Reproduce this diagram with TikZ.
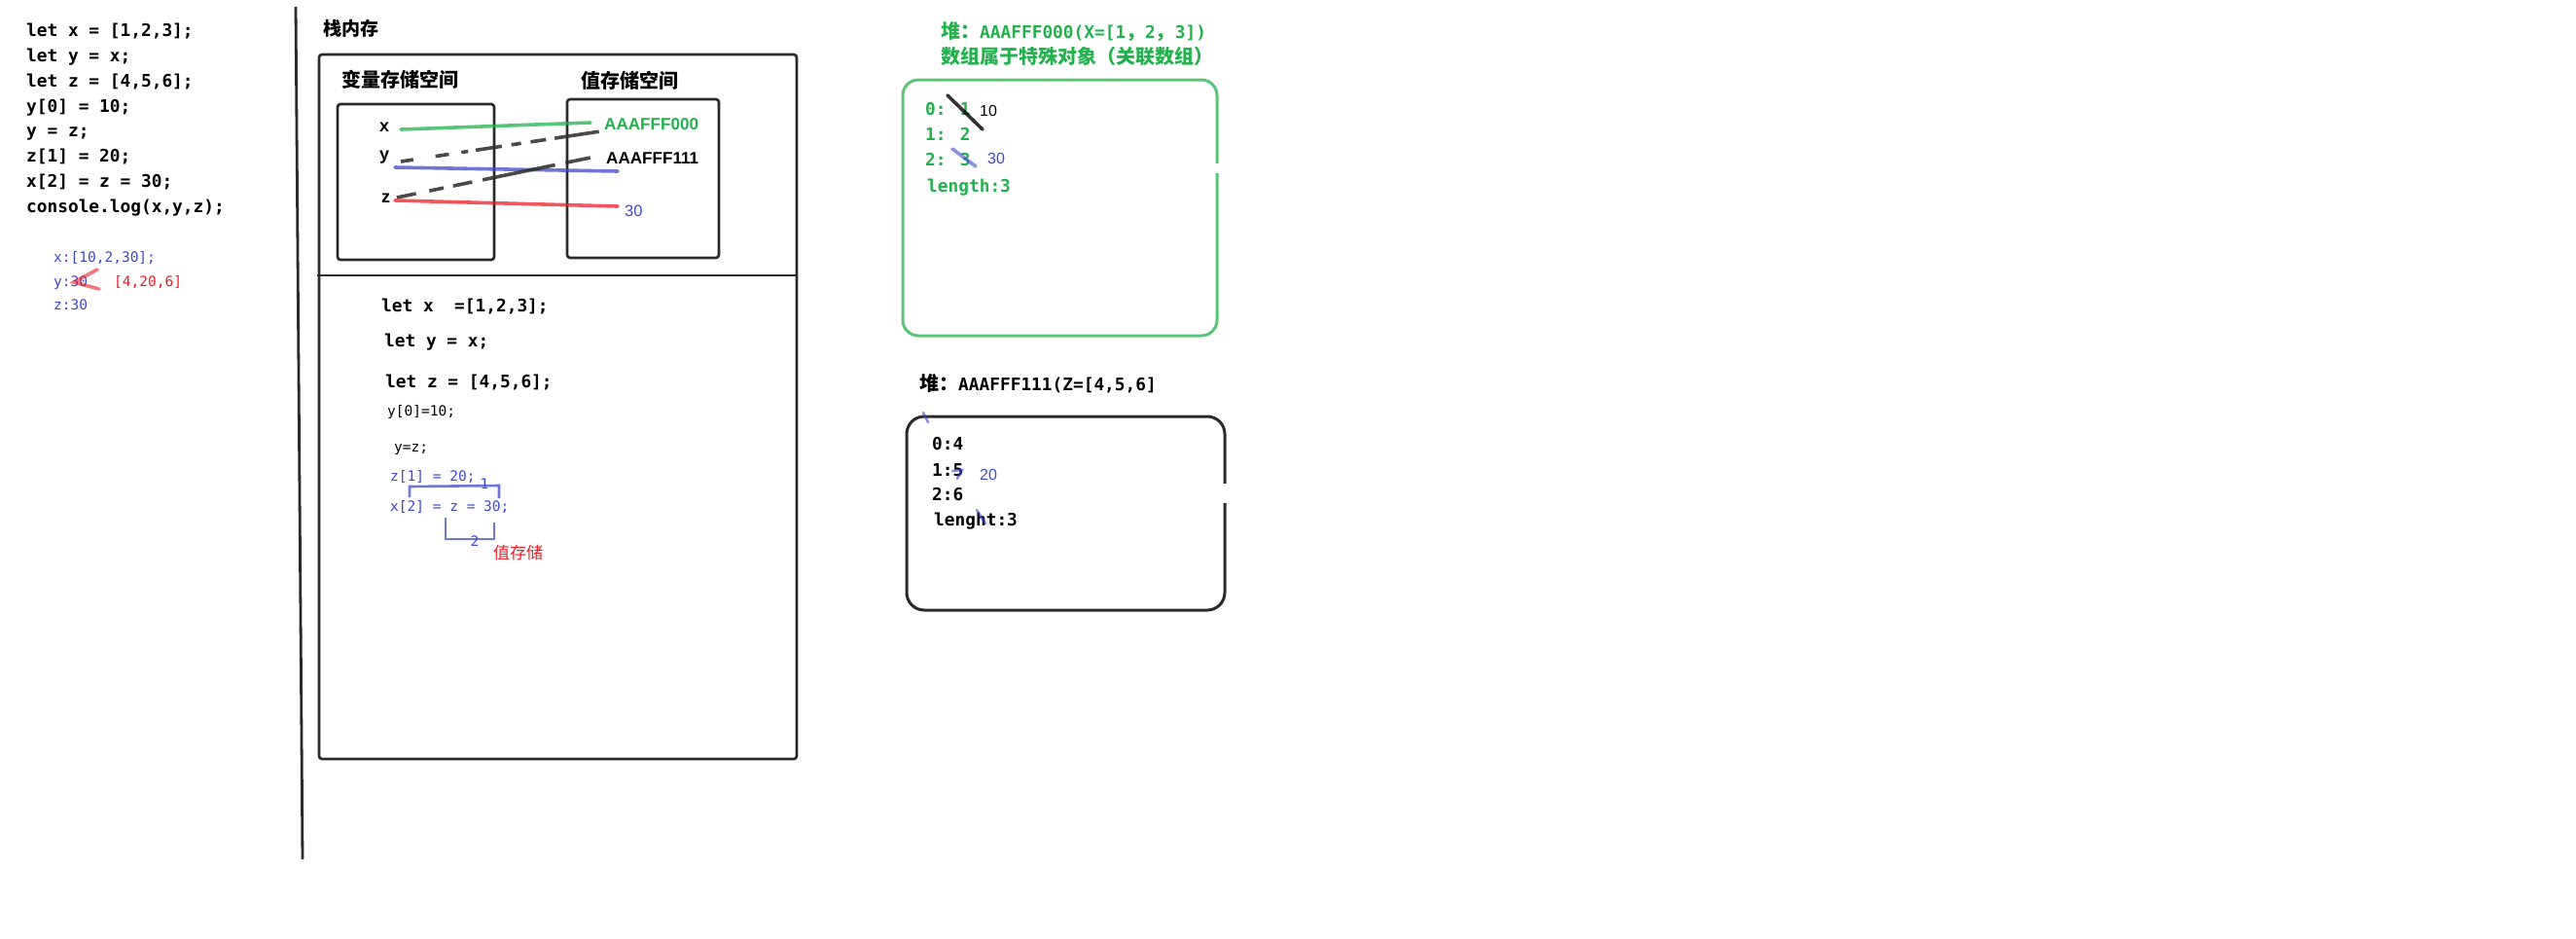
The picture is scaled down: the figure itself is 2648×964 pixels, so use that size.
\documentclass[tikz,border=0pt]{standalone}
\usepackage{fontspec}
\setmainfont{Liberation Sans}
\newfontfamily\cjk{Noto Sans CJK SC}
\newfontfamily\mono{DejaVu Sans Mono}
\newfontfamily\arial{Liberation Sans}
\definecolor{pgreen}{HTML}{22B14C}
\definecolor{pblue}{HTML}{3F48CC}
\definecolor{pred}{HTML}{ED1C24}
\definecolor{pgray}{HTML}{2A2A2A}
\begin{document}
\begin{tikzpicture}[x=1pt,y=-1pt,
  code/.style={font=\mono\bfseries\fontsize{17.8}{20}\selectfont, anchor=base west, inner sep=0pt},
  small/.style={font=\mono\fontsize{14.5}{17}\selectfont, anchor=base west, inner sep=0pt},
  sansn/.style={font=\arial\fontsize{16}{18}\selectfont, anchor=base west, inner sep=0pt},
  sansb/.style={font=\arial\bfseries\fontsize{17.1}{20}\selectfont, anchor=base west, inner sep=0pt},
  cjkb/.style={font=\cjk\bfseries\fontsize{20}{22}\selectfont, anchor=west, inner sep=0pt},
  frame/.style={draw=pgray, line width=2.6pt, rounded corners=3pt},
  pen/.style={line width=3.6pt, opacity=0.75, line cap=round},
  dline/.style={line width=3.6pt, draw=pgray, opacity=0.85},
  bracket/.style={draw=pblue, line width=2.6pt, opacity=0.75}]
\useasboundingbox (0,0) rectangle (2648,964);

% ---------- left code ----------
\node[code] (c1) at (27,37)  {let x = [1,2,3];};
\node[code] (c2) at (27,63)  {let y = x;};
\node[code] (c3) at (27,89)  {let z = [4,5,6];};
\node[code] (c4) at (27,115) {y[0] = 10;};
\node[code] (c5) at (27,140) {y = z;};
\node[code] (c6) at (27,166) {z[1] = 20;};
\node[code] (c7) at (27,192) {x[2] = z = 30;};
\node[code] (c8) at (27,218) {console.log(x,y,z);};

\node[small, text=pblue] (o1) at (55,269) {x:[10,2,30];};
\node[small, text=pblue] (o2) at (55,294) {y:30};
\node[small, text=pblue] (o3) at (55,318) {z:30};
\node[small, text=pred]  (o4) at (117,294) {[4,20,6]};
\coordinate (s1) at (100,277); \coordinate (s2) at (76,290); \coordinate (s3) at (102,297);
\draw[pen, pred, opacity=0.6] (s1) -- (s2) -- (s3);

% ---------- separator ----------
\coordinate (vt) at (304,7); \coordinate (vb) at (311,883);
\draw[draw=pgray, line width=2.8pt] (vt) -- (vb);

% ---------- stack ----------
\node[cjkb, font=\cjk\bfseries\fontsize{19}{21}\selectfont] (stk) at (332,29) {栈内存};
\draw[frame] (328,56) rectangle (819,780);
\coordinate (dl) at (326,283); \coordinate (dr) at (819,283);
\draw[frame] (dl) -- (dr);
\node[cjkb] (vs) at (351,82) {变量存储空间};
\node[cjkb] (vv) at (597,83) {值存储空间};
\draw[frame] (347,107) rectangle (508,267);
\draw[frame] (583,102) rectangle (739,265);

\node[font=\arial\bfseries\fontsize{18}{20}\selectfont, anchor=base west, inner sep=0pt] (lx) at (390,135) {x};
\node[font=\arial\bfseries\fontsize{18}{20}\selectfont, anchor=base west, inner sep=0pt] (ly) at (390,164) {y};
\node[font=\arial\bfseries\fontsize{18}{20}\selectfont, anchor=base west, inner sep=0pt] (lz) at (392,208) {z};

\node[sansb, text=pgreen] (a0) at (621,133) {AAAFFF000};
\node[sansb] (a1) at (623,168) {AAAFFF111};
\node[sansn, text=pblue, font=\arial\fontsize{16.5}{18}\selectfont] (v30) at (642,222) {30};

\coordinate (gx1) at (412,133); \coordinate (gx2) at (607,126);
\coordinate (by1) at (406,172); \coordinate (by2) at (635,176);
\coordinate (rz1) at (406,206); \coordinate (rz2) at (635,212);
\coordinate (dy1) at (412,166); \coordinate (dy2) at (617,135);
\coordinate (dz1) at (408,203); \coordinate (dz2) at (607,162);
\draw[pen, pgreen] (gx1) -- (gx2);
\draw[dline, dash pattern=on 13pt off 23pt on 14pt off 13pt on 7pt off 8pt on 27pt off 10pt on 10pt off 10pt on 16pt off 9pt on 46pt off 200pt] (dy1) -- (dy2);
\draw[pen, pblue] (by1) -- (by2);
\draw[dline, dash pattern=on 20pt off 14pt on 15pt off 10pt on 20pt off 11pt on 76pt off 11pt on 26pt off 200pt] (dz1) -- (dz2);
\draw[pen, pred] (rz1) -- (rz2);

% lower compartment
\node[code] (l1) at (392,320) {let x~~=[1,2,3];};
\node[code] (l2) at (395,356) {let y = x;};
\node[code] (l3) at (396,398) {let z = [4,5,6];};
\node[small] (l4) at (398,427) {y[0]=10;};
\node[small] (l5) at (405,464) {y=z;};
\node[small, text=pblue] (l6) at (401,494) {z[1] = 20;};
\node[small, text=pblue] (l7) at (401,525) {x[2] = z = 30;};
\coordinate (k1) at (421,511); \coordinate (k2) at (421,500); \coordinate (k3) at (513,499); \coordinate (k4) at (513,512);
\draw[bracket] (k1) -- (k2) -- (k3) -- (k4);
\node[small, text=pblue, anchor=center] (b1) at (498,497) {1};
\coordinate (m1) at (458,532); \coordinate (m2) at (458,554); \coordinate (m3) at (508,554); \coordinate (m4) at (508,537);
\draw[bracket] (m1) -- (m2) -- (m3) -- (m4);
\node[small, text=pblue, anchor=center] (b2) at (488,556) {2};
\node[font=\cjk\fontsize{17}{19}\selectfont, text=pred, anchor=west, inner sep=0pt] (zc) at (507,568) {值存储};

% ---------- heap 1 ----------
\node[code, text=pgreen] (h1t) at (967,39) {{\cjk\bfseries\fontsize{20}{22}\selectfont 堆：}AAAFFF000(X=[1{\cjk\bfseries\fontsize{20}{22}\selectfont ，}2{\cjk\bfseries\fontsize{20}{22}\selectfont ，}3])};
\node[cjkb, text=pgreen, anchor=base west] (h1s) at (967,65) {数组属于特殊对象（关联数组）};
\draw[draw=pgreen, line width=3pt, opacity=0.75, rounded corners=16pt] (928,82) rectangle (1251,345);
\fill[white] (1244,168) rectangle (1258,178);
\node[code, text=pgreen] (h10) at (951,118) {0: 1};
\node[code, text=pgreen] (h11) at (951,144) {1: 2};
\node[code, text=pgreen] (h12) at (951,170) {2: 3};
\node[code, text=pgreen] (h13) at (953,197) {length:3};
\coordinate (x1a) at (974,98); \coordinate (x1b) at (1010,133);
\draw[pen, black, opacity=0.8] (x1a) -- (x1b);
\node[sansn] (h1v0) at (1007,119) {10};
\coordinate (x3a) at (979,153); \coordinate (x3b) at (1003,171);
\draw[pen, pblue, opacity=0.6] (x3a) -- (x3b);
\node[sansn, text=pblue] (h1v2) at (1015,168) {30};

% ---------- heap 2 ----------
\node[code] (h2t) at (945,401) {{\cjk\bfseries\fontsize{20}{22}\selectfont 堆：}AAAFFF111(Z=[4,5,6]};
\draw[draw=pgray, line width=3pt, rounded corners=18pt] (932,428) rectangle (1259,627);
\fill[white] (1252,497) rectangle (1266,517);
\node[code] (h20) at (958,462) {0:4};
\node[code] (h21) at (958,489) {1:5};
\node[code] (h22) at (958,514) {2:6};
\node[code] (h23) at (960,540) {lenght:3};
\node[sansn, text=pblue] (h2v1) at (1007,493) {20};
\coordinate (q1) at (949,424); \coordinate (q2) at (954,434);
\draw[pen, pblue, line width=2.5pt, opacity=0.6] (q1) -- (q2);
\coordinate (q3) at (979,484); \coordinate (q4) at (989,483); \coordinate (q5) at (984,492);
\draw[pen, pblue, line width=2.5pt, opacity=0.6] (q3) -- (q4) -- (q5);
\coordinate (q6) at (1004,524); \coordinate (q7) at (1013,538);
\draw[pen, pblue, line width=2.5pt, opacity=0.6] (q6) -- (q7);
\end{tikzpicture}
\end{document}
